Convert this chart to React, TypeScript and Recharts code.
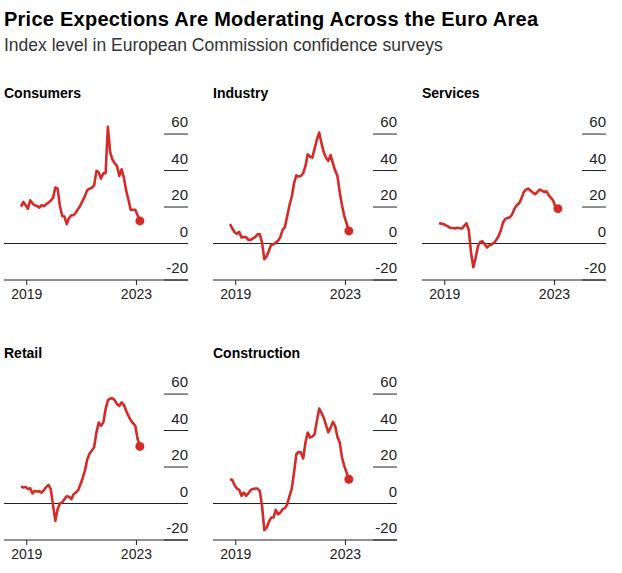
import { LineChart, Line, XAxis, YAxis, ReferenceLine } from "recharts";

// Monthly survey readings, Oct 2018 .. Feb 2023
const START_YEAR = 2018;
const START_MONTH = 10;

const consumers = [
  20.2, 22.8, 21, 19.1, 23.7, 22, 21, 20.6, 19.7, 21, 20.5, 21.5, 22.4, 23.5, 25, 30.7, 30.1, 20.6,
  15.1, 14.8, 10.6, 14, 15.5, 15.5, 17, 19, 21, 23.5, 26.1, 29.4, 30, 30.5, 32, 39.8, 38.9, 35.6,
  38.5, 38.5, 64, 50, 46, 44, 42.5, 37, 40.7, 36.1, 29, 24, 18.4, 18.5, 18.5, 15.5, 12.4,
];

const industry = [
  10.6, 8.2, 6.2, 5.3, 6.4, 3.3, 3.5, 3.5, 2.0, 2.0, 2.8, 3.5, 5.1, 5.0, 0.5, -8.6, -7, -4, -0.6,
  -0.5, 0.5, 1.5, 3.5, 7.5, 9, 15, 21, 25.5, 33, 37.4, 36.7, 37, 38.5, 42.5, 48.9, 47.6, 47.1, 52,
  57, 60.8, 55, 50, 47, 45.3, 48.5, 44, 40, 37, 28, 21, 15, 11, 6.9,
];

const services = [
  11.1, 10.9, 10.6, 9.9, 9.3, 8.6, 8.5, 8.3, 8.6, 8.4, 8.2, 9.7, 11.1, 7.5, -5, -13, -8, -1.5, 0.8,
  1.2, -0.5, -2.2, -1, -0.5, 0.4, 1.8, 4, 7, 11.5, 13.5, 14, 14.4, 16, 19, 21, 22, 24.5, 28, 29.5,
  30.1, 29, 28, 27, 28.2, 29.5, 29, 28.3, 28.6, 26.5, 25, 23.4, 19.7, 19.1,
];

const retail = [
  9.3, 8.8, 9.1, 7.9, 8.4, 5.5, 6.9, 6.6, 6.8, 6.0, 7.3, 9, 10.2, 7.9, -1, -9.5, -3.1, 0, 0.6, 2.4,
  4.0, 3.7, 2.4, 5.1, 6.0, 7.3, 10.6, 14, 18.3, 24.3, 27.4, 29, 31, 39, 44.4, 42.6, 44.4, 51.7,
  56.6, 57.5, 57.7, 56.6, 54.5, 53.5, 55.4, 54.1, 50.8, 48, 45.7, 44, 42.6, 35.3, 31.3,
];

const construction = [
  13.3, 12.9, 10.0, 8.2, 7.5, 4.2, 6.0, 4.2, 5.6, 7.3, 8, 8.2, 8.2, 6.9, -1.3, -14.6, -13.2, -10.1,
  -7.7, -7.7, -3.5, -5.9, -5.0, -3.1, -2.5, -0.5, 4, 8, 17, 27, 28.3, 27.9, 24.7, 33.4, 38.9, 36.1,
  36.7, 38.0, 45.3, 52.0, 49.8, 47, 43, 39, 41.6, 44.7, 42.5, 36.5, 33.4, 25.2, 20.5, 17, 13.3,
];

const yTicks = [-20, 0, 20, 40, 60];
const xTicks = [2019, 2023];

const RED = "#d42b27";
const INK = "#222";
const FONT = "'Liberation Sans', Arial, Helvetica, sans-serif";

const CHART_W = 192;
const CHART_H = 200;
const MARGIN = { top: 10, right: 3, bottom: 0, left: 4 };

function monthTime(i: number) {
  const m = START_MONTH - 1 + i;
  return START_YEAR + Math.floor(m / 12) + ((m % 12) + 0.5) / 12;
}

function YTick(props: any) {
  const { x, y, payload } = props;
  return (
    <g>
      <line x1={x - 24} x2={x} y1={y} y2={y} stroke={INK} strokeWidth={1} />
      <text x={x} y={y - 7} textAnchor="end" fontSize={15} fill={INK} fontFamily={FONT}>
        {payload.value}
      </text>
    </g>
  );
}

function Panel({ title, values, left, top }: { title: string; values: number[]; left: number; top: number }) {
  const data = values.map((v, i) => ({ t: monthTime(i), v }));
  const last = data.length - 1;
  return (
    <div style={{ position: "absolute", left, top, width: CHART_W, height: CHART_H + 30 }}>
      <div
        style={{
          position: "absolute",
          left: 4,
          top: 0,
          fontSize: 14,
          lineHeight: "16px",
          fontWeight: 700,
          color: "#000",
          whiteSpace: "nowrap",
        }}
      >
        {title}
      </div>
      <div style={{ position: "absolute", left: 0, top: 25 }}>
        <LineChart width={CHART_W} height={CHART_H} data={data} margin={MARGIN}>
          <XAxis
            dataKey="t"
            type="number"
            domain={[2018.17, 2024.88]}
            ticks={xTicks}
            allowDataOverflow
            height={30}
            tickSize={5}
            tickMargin={4}
            axisLine={{ stroke: INK }}
            tickLine={{ stroke: INK }}
            tick={{ fontSize: 14, fill: INK, fontFamily: FONT }}
          />
          <YAxis
            orientation="right"
            type="number"
            domain={[-20, 67.7]}
            ticks={yTicks}
            interval={0}
            width={1}
            tickSize={0}
            tickMargin={0}
            axisLine={false}
            tickLine={false}
            tick={YTick}
          />
          <ReferenceLine y={0} stroke={INK} strokeWidth={1} />
          <Line
            dataKey="v"
            type="linear"
            stroke={RED}
            strokeWidth={2.6}
            strokeLinejoin="round"
            isAnimationActive={false}
            dot={(p: any) =>
              p.index === last ? (
                <circle key={p.index} cx={p.cx} cy={p.cy} r={4.5} fill={RED} stroke="none" />
              ) : (
                <g key={p.index} />
              )
            }
            activeDot={false}
          />
        </LineChart>
      </div>
    </div>
  );
}

export default function App() {
  return (
    <div
      style={{
        position: "absolute",
        left: 0,
        top: 0,
        width: 622,
        height: 573,
        background: "#fff",
        fontFamily: FONT,
        overflow: "hidden",
      }}
    >
      <div
        style={{
          position: "absolute",
          left: 4,
          top: 7,
          fontSize: 20,
          lineHeight: "24px",
          fontWeight: 700,
          color: "#000",
          whiteSpace: "nowrap",
          letterSpacing: 0.25,
        }}
      >
        Price Expections Are Moderating Across the Euro Area
      </div>
      <div
        style={{
          position: "absolute",
          left: 4,
          top: 35,
          fontSize: 17.5,
          lineHeight: "20px",
          color: "#333",
          whiteSpace: "nowrap",
        }}
      >
        Index level in European Commission confidence surveys
      </div>
      <Panel title="Consumers" values={consumers} left={0} top={85} />
      <Panel title="Industry" values={industry} left={209} top={85} />
      <Panel title="Services" values={services} left={418} top={85} />
      <Panel title="Retail" values={retail} left={0} top={345} />
      <Panel title="Construction" values={construction} left={209} top={345} />
    </div>
  );
}
